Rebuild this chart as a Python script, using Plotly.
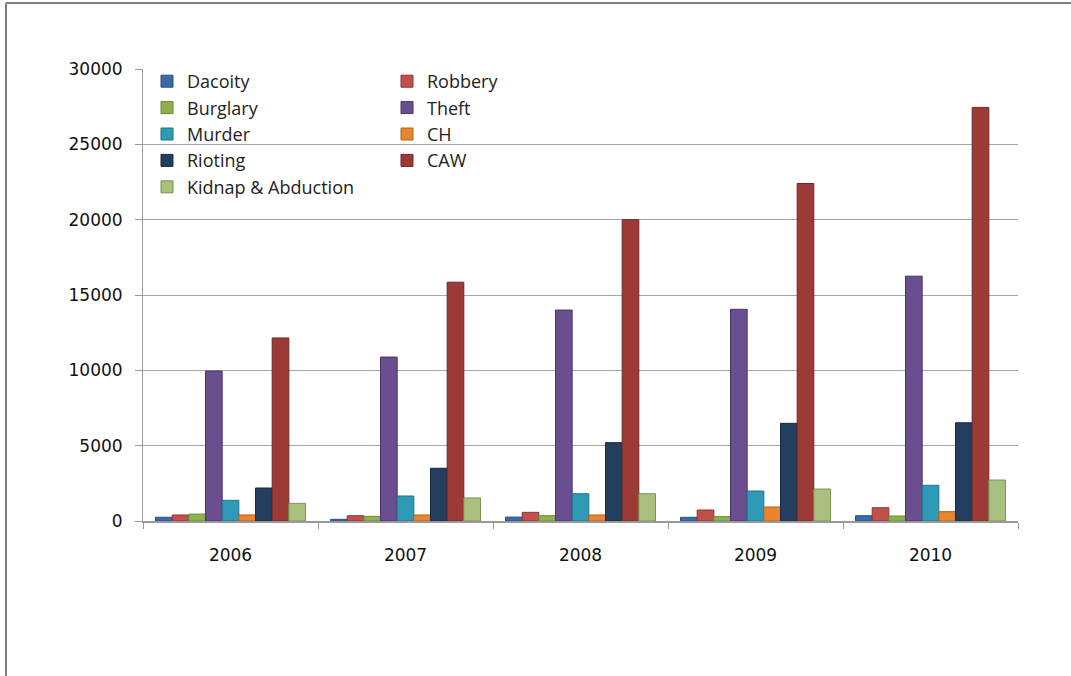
import plotly.graph_objects as go

years = ["2006", "2007", "2008", "2009", "2010"]
series_names = ["Dacoity", "Robbery", "Burglary", "Theft", "Murder", "CH", "Rioting", "CAW", "Kidnap & Abduction"]

dacoity = [250, 110, 260, 245, 350]
robbery = [400, 350, 575, 730, 880]
burglary = [460, 310, 350, 290, 330]
theft = [9950, 10880, 14000, 14050, 16250]
murder = [1370, 1660, 1810, 1990, 2370]
ch = [400, 400, 400, 930, 620]
rioting = [2190, 3500, 5200, 6480, 6520]
caw = [12150, 15850, 20000, 22400, 27450]
kidnap = [1170, 1530, 1810, 2120, 2720]

values = [dacoity, robbery, burglary, theft, murder, ch, rioting, caw, kidnap]
colors = ["#3A6BA8", "#C0504D", "#8FB04E", "#6A4E8F", "#2E9AB5", "#E9852F", "#233E5F", "#9B3A37", "#A9C07F"]
edge = ["#2A5080", "#8E3432", "#6A8A38", "#4A3468", "#1F7388", "#B0621E", "#162A42", "#6E2826", "#7C9158"]
legend_of = ["legend", "legend2", "legend", "legend2", "legend", "legend2", "legend", "legend2", "legend"]

fig = go.Figure()
for name, vals, c, e, lg in zip(series_names, values, colors, edge, legend_of):
    fig.add_trace(go.Bar(x=years, y=vals, name=name, marker=dict(color=c, line=dict(color=e, width=1)),
                         legend=lg))

L, R, T, B = 143, 53, 69, 155
W, H = 1071, 676
pw, ph = W - L - R, H - T - B

legfont = dict(family="Open Sans, Lato, sans-serif", size=18, color="#222222")
tickfont = dict(family="DejaVu Sans", size=17, color="#111111")
fig.update_layout(
    width=W, height=H,
    margin=dict(l=L, r=R, t=T, b=B),
    paper_bgcolor="white", plot_bgcolor="white",
    barmode="group", bargap=0.143, bargroupgap=0,
    font=dict(family="DejaVu Sans", size=14, color="#111111"),
    legend=dict(x=(147 - L) / pw, y=1 - (63 - T) / ph, xanchor="left", yanchor="top",
                bgcolor="rgba(0,0,0,0)", font=legfont, tracegroupgap=0, itemwidth=30),
    legend2=dict(x=(387 - L) / pw, y=1 - (63 - T) / ph, xanchor="left", yanchor="top",
                 bgcolor="rgba(0,0,0,0)", font=legfont, tracegroupgap=0, itemwidth=30),
    xaxis=dict(showline=True, linecolor="#999999", linewidth=2, ticks="outside", tickson="boundaries",
               ticklen=6, tickcolor="#999999", showgrid=False, tickfont=tickfont, ticklabelstandoff=18),
    yaxis=dict(range=[0, 30000], dtick=5000, tickformat="d", showline=True, linecolor="#999999", linewidth=1,
               ticks="outside", ticklen=7, tickcolor="#999999", gridcolor="#A6A6A6", gridwidth=1,
               tickfont=tickfont, zeroline=False, ticklabelstandoff=9),
)

# outer frame lines (top and left)
fig.add_shape(type="line", xref="paper", yref="paper",
              x0=(6 - L) / pw, x1=(W - L) / pw, y0=1 + (T - 3) / ph, y1=1 + (T - 3) / ph,
              line=dict(color="#808080", width=2))
fig.add_shape(type="line", xref="paper", yref="paper",
              x0=(6 - L) / pw, x1=(6 - L) / pw, y0=1 + (T - 3) / ph, y1=-(H - T - ph) / ph,
              line=dict(color="#808080", width=2))

fig.write_html("out.html")
